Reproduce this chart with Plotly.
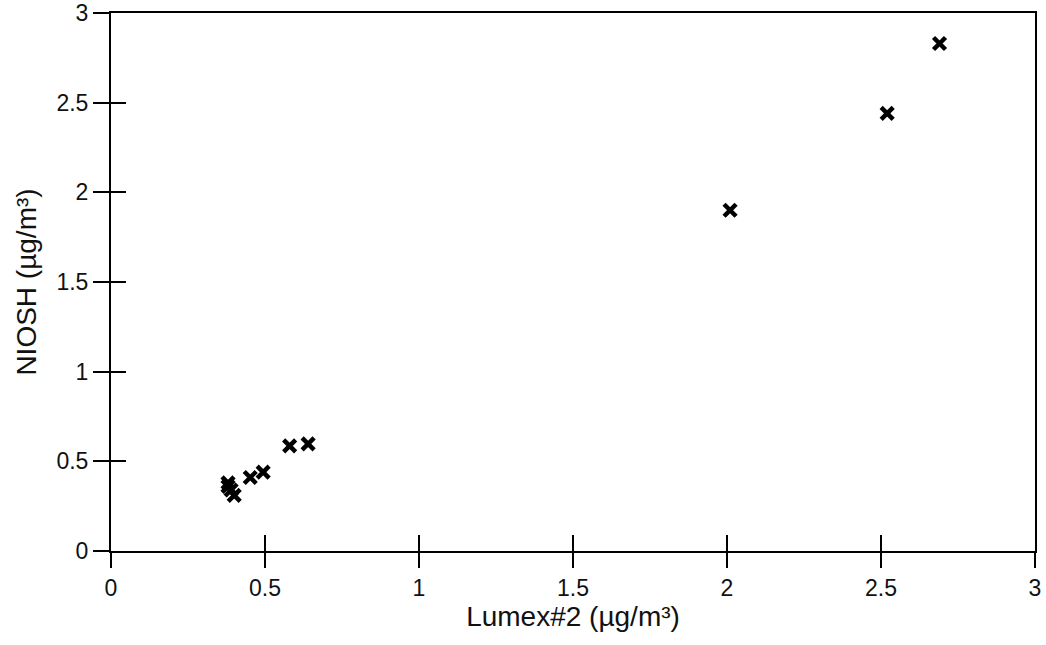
import plotly.graph_objects as go

lumex = [2.69, 2.52, 2.01, 0.58, 0.64, 0.494, 0.452, 0.38, 0.40, 0.39, 0.38]
niosh = [2.83, 2.44, 1.90, 0.586, 0.597, 0.44, 0.41, 0.36, 0.31, 0.34, 0.38]

tickvals = [0, 0.5, 1, 1.5, 2, 2.5, 3]
ticktext = ["0", "0.5", "1", "1.5", "2", "2.5", "3"]

tick_font = dict(family="Liberation Sans, Arial, sans-serif", size=23, color="#111")
title_font = dict(family="Liberation Sans, Arial, sans-serif", size=28, color="#111")

fig = go.Figure()
fig.add_trace(go.Scatter(
    x=lumex, y=niosh, mode="markers",
    marker=dict(symbol="x-thin", size=12, color="black",
                line=dict(color="black", width=4.5)),
    showlegend=False, hoverinfo="x+y",
))
# helper trace on the overlay axes so their inward tick marks are drawn
fig.add_trace(go.Scatter(
    x=lumex, y=niosh, xaxis="x2", yaxis="y2", mode="markers",
    marker=dict(opacity=0), showlegend=False, hoverinfo="skip",
))

axis_common = dict(range=[0, 3], tickvals=tickvals, ticktext=ticktext,
                   showgrid=False, zeroline=False, tickcolor="black",
                   tickwidth=2, tickfont=tick_font, automargin=False)

fig.update_layout(
    width=1046, height=645,
    margin=dict(l=111, r=11, t=13, b=94),
    plot_bgcolor="white", paper_bgcolor="white",
    font=tick_font,
    xaxis=dict(**axis_common, ticks="outside", ticklen=15,
               showline=True, linecolor="black", linewidth=2, mirror=True,
               title=dict(text="Lumex#2 (µg/m³)", font=title_font, standoff=3)),
    yaxis=dict(**axis_common, ticks="outside", ticklen=16,
               showline=True, linecolor="black", linewidth=2, mirror=True,
               title=dict(text="NIOSH (µg/m³)", font=title_font, standoff=12)),
    xaxis2=dict(range=[0, 3], tickvals=tickvals, overlaying="x", matches="x",
                anchor="y2", side="bottom", ticks="inside", ticklen=16,
                tickwidth=2, tickcolor="black", showticklabels=False,
                showgrid=False, zeroline=False, showline=False, automargin=False),
    yaxis2=dict(range=[0, 3], tickvals=tickvals, overlaying="y", matches="y",
                anchor="x2", side="left", ticks="inside", ticklen=15,
                tickwidth=2, tickcolor="black", showticklabels=False,
                showgrid=False, zeroline=False, showline=False, automargin=False),
)

fig.write_html("out.html")
